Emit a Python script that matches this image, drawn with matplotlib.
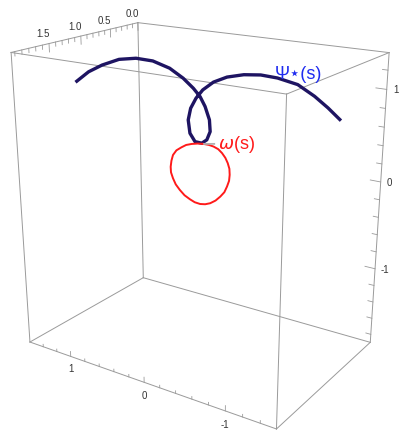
import numpy as np
import matplotlib
matplotlib.use("Agg")
import matplotlib.pyplot as plt

# ---- box / axis ranges (y runs reversed, as in the reference view) ----
XLIM = (0.0, 2.05)
YLIM = (1.6, -1.58)
ZLIM = (-1.9, 1.38)

x_major = [0.0, 0.5, 1.0, 1.5]
x_labels = ["0.0", "0.5", "1.0", "1.5"]
y_major = [-1, 0, 1]
y_labels = ["-1", "0", "1"]
z_major = [-1, 0, 1]
z_labels = ["-1", "0", "1"]

# ---- curve Psi*(s) ----
psi_x = [1.712, 1.644, 1.568, 1.473, 1.379, 1.287, 1.194, 1.119, 1.063, 1.025,
         0.997, 0.972, 0.968, 0.986, 1.015, 1.054, 1.082, 1.092, 1.078, 1.048,
         1.010, 0.950, 0.875, 0.781, 0.687, 0.593, 0.479, 0.382, 0.304, 0.234]
psi_y = [1.047, 0.945, 0.830, 0.687, 0.545, 0.405, 0.265, 0.152, 0.067, 0.010,
         -0.033, -0.070, -0.077, -0.048, -0.005, 0.053, 0.097, 0.111, 0.090, 0.044,
         -0.013, -0.103, -0.217, -0.358, -0.500, -0.643, -0.815, -0.961, -1.080, -1.185]
psi_z = [1.088, 1.185, 1.254, 1.312, 1.323, 1.295, 1.220, 1.116, 1.012, 0.924,
         0.819, 0.677, 0.551, 0.462, 0.426, 0.443, 0.534, 0.677, 0.801, 0.907,
         0.994, 1.075, 1.127, 1.151, 1.148, 1.116, 1.047, 0.924, 0.801, 0.677]

# ---- curve omega(s) (closed) ----
om_x = [1.006, 0.975, 0.948, 0.921, 0.899, 0.880, 0.866, 0.856, 0.854, 0.857,
        0.869, 0.884, 0.908, 0.935, 0.966, 0.996, 1.025, 1.056, 1.084, 1.115,
        1.142, 1.166, 1.181, 1.192, 1.194, 1.189, 1.180, 1.160, 1.131, 1.104,
        1.073, 1.038, 1.006]
om_y = [-0.019, -0.066, -0.106, -0.147, -0.180, -0.209, -0.230, -0.245, -0.248, -0.243,
        -0.226, -0.203, -0.168, -0.126, -0.079, -0.035, 0.010, 0.057, 0.099, 0.146,
        0.187, 0.222, 0.246, 0.263, 0.265, 0.258, 0.244, 0.214, 0.170, 0.130,
        0.082, 0.030, -0.019]
om_z = [0.418, 0.407, 0.389, 0.360, 0.317, 0.265, 0.207, 0.144, 0.077, 0.010,
        -0.053, -0.117, -0.166, -0.211, -0.241, -0.252, -0.249, -0.229, -0.195, -0.150,
        -0.090, -0.027, 0.041, 0.107, 0.169, 0.235, 0.298, 0.349, 0.382, 0.407,
        0.418, 0.422, 0.418]

psi_label_pos = (0.479, -0.815, 1.151)
om_label_pos = (0.817, -0.304, 0.407)
om_leader = ([1.002, 0.944], [-0.025, -0.112], [0.418, 0.418])

BOX = "#9a9a9a"
TXT = "#333333"
TICKFONT = ["Liberation Sans", "DejaVu Sans"]

fig = plt.figure(figsize=(4.03, 4.30), dpi=100)
ax = fig.add_axes([-0.0171, 0.0421, 1.0, 0.9372], projection="3d")
ax.set_proj_type("persp", focal_length=0.46)
ax.view_init(elev=20, azim=33.8)
ax.set_axis_off()

# box edges
x0, x1 = XLIM
y0, y1 = YLIM
z0, z1 = ZLIM
for y in YLIM:
    for z in ZLIM:
        ax.plot(XLIM, [y, y], [z, z], color=BOX, lw=0.7, clip_on=False)
for x in XLIM:
    for z in ZLIM:
        ax.plot([x, x], YLIM, [z, z], color=BOX, lw=0.7, clip_on=False)
for x in XLIM:
    for y in YLIM:
        ax.plot([x, x], [y, y], ZLIM, color=BOX, lw=0.7, clip_on=False)

# x ticks: top back edge (y = 1.6, z = top), pointing down
for v in np.arange(0.0, 2.01, 0.1):
    major = any(abs(v - m) < 1e-6 for m in x_major)
    L = 0.09 if major else 0.045
    ax.plot([v, v], [y0, y0], [z1, z1 - L], color=BOX, lw=0.6, clip_on=False)
for v, s in zip(x_major, x_labels):
    ax.text(v, y0 + 0.085, z1 + 0.088, s, ha="center", va="center",
            fontsize=7, color=TXT, family=TICKFONT)

# y ticks: bottom front edge (x = max, z = bottom), pointing up
for v in np.arange(-1.4, 1.41, 0.2):
    major = any(abs(v - m) < 1e-6 for m in y_major)
    L = 0.06 if major else 0.03
    ax.plot([x1, x1], [v, v], [z0, z0 + L], color=BOX, lw=0.6, clip_on=False)
for v, s in zip(y_major, y_labels):
    ax.text(x1, v, z0 - 0.16, s, ha="center", va="center",
            fontsize=7, color=TXT, family=TICKFONT)

# z ticks: right edge (x = 0, y = min), pointing inward
for v in np.arange(-1.8, 1.21, 0.2):
    major = any(abs(v - m) < 1e-6 for m in z_major)
    L = 0.12 if major else 0.06
    ax.plot([x0, x0], [y1, y1 + L], [v, v], color=BOX, lw=0.6, clip_on=False)
for v, s in zip(z_major, z_labels):
    ax.text(x0, y1 - 0.07, v, s, ha="left", va="center",
            fontsize=7, color=TXT, family=TICKFONT)

# curves
ax.plot(psi_x, psi_y, psi_z, color="#1e1462", lw=2.4,
        solid_joinstyle="round", clip_on=False)
ax.plot(om_x, om_y, om_z, color="#ff1a1a", lw=1.4,
        solid_joinstyle="round", clip_on=False)
ax.plot(*om_leader, color="#b0b0b0", lw=1.3, clip_on=False)

ax.text(*psi_label_pos, "Ψ⋆(s)", color="#1f2cf0", fontsize=13,
        ha="center", va="center", family=["Liberation Sans", "DejaVu Sans"])
ax.text(*om_label_pos, r"$\omega$(s)", color="#ff1a1a", fontsize=13,
        ha="center", va="center", family=["Liberation Sans", "DejaVu Sans"])

ax.set_xlim(*XLIM)
ax.set_ylim(*YLIM)
ax.set_zlim(*ZLIM)
# box slightly deeper along x than the raw data range, as in the reference
ax.set_box_aspect((2.12, abs(YLIM[1] - YLIM[0]), ZLIM[1] - ZLIM[0]), zoom=1.137)

fig.savefig("out.png", dpi=100)
